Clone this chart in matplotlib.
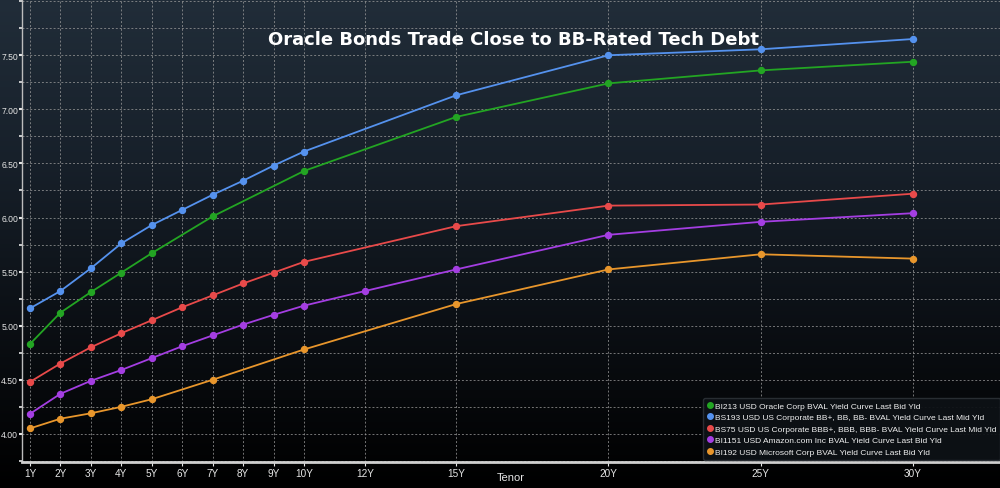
import numpy as np
import matplotlib
matplotlib.use("Agg")
import matplotlib.pyplot as plt
from matplotlib.colors import LinearSegmentedColormap
from matplotlib.lines import Line2D

# ---- data ----
tick_years = [1, 2, 3, 4, 5, 6, 7, 8, 9, 10, 12, 15, 20, 25, 30]
tick_labels = ["1Y", "2Y", "3Y", "4Y", "5Y", "6Y", "7Y", "8Y", "9Y", "10Y", "12Y", "15Y", "20Y", "25Y", "30Y"]

oracle_x = [1, 2, 3, 4, 5, 7, 10, 15, 20, 25, 30]
oracle_y = [4.83, 5.12, 5.31, 5.49, 5.67, 6.01, 6.43, 6.93, 7.24, 7.36, 7.44]

bb_x = [1, 2, 3, 4, 5, 6, 7, 8, 9, 10, 15, 20, 25, 30]
bb_y = [5.16, 5.32, 5.53, 5.76, 5.93, 6.07, 6.21, 6.34, 6.48, 6.61, 7.13, 7.50, 7.555, 7.65]

bbb_x = [1, 2, 3, 4, 5, 6, 7, 8, 9, 10, 15, 20, 25, 30]
bbb_y = [4.48, 4.65, 4.80, 4.93, 5.05, 5.17, 5.28, 5.39, 5.49, 5.59, 5.92, 6.11, 6.12, 6.22]

amzn_x = [1, 2, 3, 4, 5, 6, 7, 8, 9, 10, 12, 15, 20, 25, 30]
amzn_y = [4.185, 4.37, 4.49, 4.59, 4.70, 4.81, 4.91, 5.01, 5.10, 5.185, 5.32, 5.52, 5.84, 5.96, 6.04]

msft_x = [1, 2, 3, 4, 5, 7, 10, 15, 20, 25, 30]
msft_y = [4.05, 4.14, 4.19, 4.25, 4.32, 4.50, 4.78, 5.20, 5.52, 5.66, 5.62]

labels = [
    "BI213 USD Oracle Corp BVAL Yield Curve Last Bid Yld",
    "BS193 USD US Corporate BB+, BB, BB- BVAL Yield Curve Last Mid Yld",
    "BS75 USD US Corporate BBB+, BBB, BBB- BVAL Yield Curve Last Mid Yld",
    "BI1151 USD Amazon.com Inc BVAL Yield Curve Last Bid Yld",
    "BI192 USD Microsoft Corp BVAL Yield Curve Last Bid Yld",
]
colors = ["#23a523", "#5592ee", "#e84a4a", "#a43ee2", "#e8962c"]
series = [(oracle_x, oracle_y), (bb_x, bb_y), (bbb_x, bbb_y), (amzn_x, amzn_y), (msft_x, msft_y)]

small_font = ["Liberation Sans", "DejaVu Sans"]

fig = plt.figure(figsize=(10, 4.89), dpi=100)
fig.patch.set_facecolor("black")

# background gradient
bg = fig.add_axes([0, 0, 1, 1], zorder=-5)
cmap = LinearSegmentedColormap.from_list("bg", ["#000000", "#0b0f14", "#17202a", "#212d39"])
grad = np.linspace(0, 1, 256).reshape(-1, 1)
bg.imshow(grad, aspect="auto", cmap=cmap, origin="lower", extent=[0, 1, 0, 1])
bg.axis("off")

ax = fig.add_axes([0.022, 0.0532, 0.978, 0.9468])
ax.set_facecolor("none")

for (xs, ys), c, lab in zip(series, colors, labels):
    ax.plot(xs, ys, color=c, lw=1.3, marker="o", ms=4.3, mec=c, mfc=c, label=lab, zorder=3)

ax.set_xlim(0.74, 32.86)
ax.set_ylim(3.74, 8.02)
ax.set_xticks(tick_years)
ax.set_xticklabels(tick_labels)
ax.set_yticks([4.0, 4.5, 5.0, 5.5, 6.0, 6.5, 7.0, 7.5])
ax.set_yticklabels(["4.00", "4.50", "5.00", "5.50", "6.00", "6.50", "7.00", "7.50"])
ax.set_yticks(np.arange(3.75, 8.01, 0.25), minor=True)

ax.grid(True, which="major", color="#9a9a9a", ls=(0, (2, 2)), lw=0.7, alpha=0.75)
ax.grid(True, which="minor", axis="y", color="#9a9a9a", ls=(0, (2, 2)), lw=0.7, alpha=0.75)

for s in ["top", "right"]:
    ax.spines[s].set_visible(False)
ax.spines["left"].set_color("#bdbdbd")
ax.spines["left"].set_linewidth(1.0)
ax.spines["bottom"].set_color("#cfcfcf")
ax.spines["bottom"].set_linewidth(2.0)

ax.tick_params(axis="x", which="both", colors="#e6e6e6", labelsize=7.2, length=3, pad=1)
ax.tick_params(axis="y", which="both", colors="#e6e6e6", labelsize=6.2)
ax.tick_params(axis="y", which="major", length=2.5, width=1.5, pad=0.3)
ax.tick_params(axis="y", which="minor", length=2.5, width=1.2)
for t in ax.get_xticklabels() + ax.get_yticklabels():
    t.set_family(small_font)

fig.text(0.511, 0.022, "Tenor", color="#e6e6e6", fontsize=8, ha="center", va="center",
         family=small_font)

fig.text(0.514, 0.918, "Oracle Bonds Trade Close to BB-Rated Tech Debt", color="white",
         fontsize=13, fontweight="bold", ha="center", va="center", family="DejaVu Sans")

handles = [Line2D([], [], ls="none", marker="o", ms=4, color=c) for c in colors]
leg = fig.legend(handles, labels, loc="lower left", bbox_to_anchor=(0.703, 0.058),
                 frameon=True, handletextpad=0.2, handlelength=0.8,
                 borderpad=0.45, labelspacing=0.44, borderaxespad=0,
                 prop={"family": small_font, "size": 6.0})
leg.get_frame().set_facecolor("#0d1115")
leg.get_frame().set_edgecolor("#2a2f35")
leg.get_frame().set_alpha(0.95)
for t in leg.get_texts():
    t.set_color("#f0f0f0")

fig.savefig("out.png", dpi=100, facecolor=fig.get_facecolor())
